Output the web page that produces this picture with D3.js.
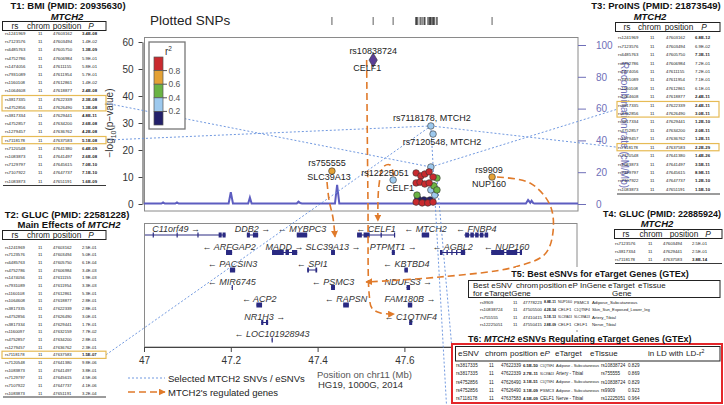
<!DOCTYPE html>
<html><head><meta charset="utf-8">
<script src="https://cdn.jsdelivr.net/npm/d3@7/dist/d3.min.js"></script>
<style>html,body{margin:0;padding:0;background:#fff}svg{display:block}</style>
</head><body><svg id="chart" width="724" height="405"></svg>
<script>
// ================= DATA =================
const snpIds = ["rs10838724","rs7118178","rs7120548","rs755555","rs12225051","rs9909",
  "","","","","","","","","","","","","","","","","","","","","","",""];
const snpGene = ["CELF1","MTCH2","MTCH2","SLC39A13","CELF1","NUP160"];
const snpPos = [47.528,47.661,47.666,47.433,47.574,47.802,
  47.661,47.627,47.638,47.647,47.657,47.666,47.675,47.627,47.636,47.647,47.657,47.668,
  47.675,47.661,47.670,47.629,47.631,47.645,47.659,47.627,47.641,47.654,47.666];
const snpLogP = [53.3,28.9,25.9,12.2,8.9,10.0,
  13.7,11.5,10.4,11.1,11.9,10.0,9.6,7.8,8.1,7.4,7.8,6.7,
  5.2,5.2,3.3,3.3,1.9,1.5,1.5,0.7,0.4,0.4,0.7];
const snpR2 = [1.0,0.3,0.3,0.7,0.3,0.7,
  0.3,0.9,0.9,0.9,0.9,0.9,0.5,0.9,0.9,0.9,0.9,0.5,
  0.5,0.3,0.3,0.5,0.1,0.1,0.1,0.9,0.9,0.9,0.9];
const leadSnp = "rs10838724";

const recPos  = [47.0,47.040,47.044,47.048,47.072,47.076,47.080,47.195,47.200,47.205,47.240,47.244,47.248,47.352,47.356,47.360,47.364,47.440,47.445,47.450,47.880,47.885,47.890,47.893,47.897,47.900,48.0];
const recRate = [0.3,0.3,1.0,0.3,0.3,1.0,0.3,0.3,7.5,0.3,0.3,4.0,0.3,0.3,1.5,0.6,0.3,0.3,12.0,0.3,0.3,2.5,0.8,2.0,0.5,0.3,0.3];

const yTicks = [0,10,20,30,40,50,60];
const recTicks = [0,20,40,60,80,100];
const xTicks = [47,47.2,47.4,47.6];   // 47.8 is hidden behind table T6 in the reference
const r2Labels = [0.8,0.6,0.4,0.2];

const geneNames  = ["C11orf49","DDB2","MYBPC3","CELF1","MTCH2","FNBP4","ARFGAP2","MADD","SLC39A13","PTPMT1","AGBL2","NUP160","PACSIN3","SPI1","KBTBD4","MIR6745","PSMC3","NDUFS3","ACP2","RAPSN","FAM180B","NR1H3","C1QTNF4","LOC101928943"];
const geneStart  = [46.96,47.237,47.352,47.491,47.640,47.738,47.189,47.295,47.431,47.571,47.682,47.800,47.198,47.376,47.600,47.202,47.431,47.605,47.259,47.459,47.608,47.270,47.611,47.294];
const geneEnd    = [47.188,47.263,47.376,47.578,47.657,47.793,47.203,47.353,47.440,47.578,47.740,47.871,47.210,47.399,47.608,47.203,47.440,47.613,47.272,47.472,47.618,47.286,47.618,47.296];
const geneStrand = [1,1,-1,-1,-1,-1,-1,1,1,1,-1,-1,-1,-1,-1,-1,-1,1,-1,-1,1,1,-1,-1];
const geneRow    = [0,0,0,0,0,0,1,1,1,1,1,1,2,2,2,3,3,3,4,4,4,5,5,6];
const geneExons = {
  "C11orf49":[[47.020,47.022],[47.075,47.077],[47.123,47.125],[47.172,47.179],[47.181,47.188]],
  "DDB2":[[47.237,47.244],[47.251,47.263]],
  "CELF1":[[47.491,47.502],[47.506,47.520],[47.545,47.548],[47.576,47.578]],
  "FNBP4":[[47.740,47.749],[47.752,47.760],[47.763,47.771],[47.774,47.782],[47.785,47.793]],
  "MADD":[[47.295,47.322],[47.326,47.334],[47.341,47.353]],
  "AGBL2":[[47.682,47.688],[47.697,47.700],[47.708,47.711],[47.719,47.722],[47.730,47.740]],
  "NUP160":[[47.800,47.830],[47.835,47.860],[47.866,47.871]],
  "SPI1":[[47.376,47.380],[47.395,47.399]],
  "NR1H3":[[47.270,47.275],[47.281,47.286]]
};

// tables
const tRs  = ["rs1241969","rs7123576","rs6485763","rs4752786","rs1474056","rs7931089","rs1160108","rs1064608","rs3817335","rs4752856","rs3817334","rs4752857","rs1279457","rs7118178","rs7120548","rs1083873","rs7129797","rs7107922","rs1083873"];
const tPos = ["47603162","47603494","47605750","47606984","47611155","47611954","47612861","47618877","47622339","47626490","47629441","47634200","47636762","47637583","47641380","47641497","47645615","47647737","47651191"];
const t1P = ["3.4E-08","1.4E-02","1.3E-09","5.9E-01","5.8E-01","5.7E-01","1.4E-02","2.4E-08","2.3E-08","1.3E-08","4.8E-11","2.6E-08","4.2E-08","5.1E-08","6.4E-09","2.6E-08","7.0E-10","7.1E-10","1.6E-09"];
const t3P = ["6.8E-12","6.9E-02","7.3E-11","7.2E-01","7.2E-01","7.1E-01","6.1E-01","2.4E-11","2.4E-11","3.0E-11","1.2E-10","2.0E-11","1.2E-11","2.2E-29","1.4E-26","3.5E-11","8.9E-11","1.2E-10","1.5E-10"];
const t2Rs  = ["rs1241969","rs7123576","rs6485763","rs4752786","rs1474056","rs7931089","rs1160108","rs1064608","rs3817335","rs4752856","rs3817334","rs1160097","rs4752857","rs1279457","rs7118178","rs7120548","rs1083873","rs7129797","rs7107922","rs1083873"];
const t2Pos = ["47603162","47603494","47605750","47606984","47611155","47611954","47612861","47618877","47622339","47626490","47629441","47632159","47634200","47636762","47637583","47641380","47641497","47645615","47647737","47651191"];
const t2P = ["2.5E-01","5.0E-01","6.1E-04","3.4E-03","1.9E-03","3.3E-03","5.3E-01","2.8E-01","2.8E-01","3.0E-01","1.7E-01","7.7E-02","2.8E-01","2.3E-01","1.5E-07","9.8E-06","3.8E-01","4.5E-06","4.1E-06","3.2E-04"];
const t4Rs = ["rs7123576","rs3817334","rs7118178"];
const t4Pos = ["47603494","47629441","47637583"];
const t4P = ["2.5E-01","2.5E-01","3.8E-14"];
const t5Snv = ["rs9909","rs10838724","rs755555","rs12225051"];
const t5Pos = ["47778223","47505500","47410415","47550415"];
const t5EP = ["8.8E-11","4.2E-54","5.1E-13","2.8E-09"];
const t5InGene = ["NUP160","CELF1","SLC39A13","CELF1"];
const t5Target = ["PSMC3","C1QTNF4","SLC39A13","CELF1"];
const t5Tissue = ["Adipose_Subcutaneous","Skin_Sun_Exposed_Lower_leg","Artery_Tibial","Nerve_Tibial"];
const t6Snv = ["rs3817335","rs3817335","rs4752856","rs4752856","rs7118178"];
const t6Pos = ["47622339","47622339","47626490","47626490","47637583"];
const t6EP = ["6.5E-50","2.7E-11","3.1E-51","3.1E-09","4.5E-09"];
const t6Target = ["C1QTNF4","SLC39A13","C1QTNF4","PSMC3","CELF1"];
const t6Tissue = ["Adipose - Subcutaneous","Artery - Tibial","Adipose - Subcutaneous","Adipose - Subcutaneous","Nerve - Tibial"];
const t6LD = ["rs10838724","rs755555","rs10838724","rs9909","rs12225051"];
const t6R2 = ["0.829","0.869","0.829","0.923","0.964"];

// ================= LAYOUT / STYLE =================
const FONT = "'Liberation Sans', Arial, Helvetica, sans-serif";
const NAVY = "#2a2a82", ORANGE = "#e07a2a", BLUE = "#7199e0", GOLD = "#e6bb55", RECC = "#5d5dc0", RAX = "#6f6fb8";
const r2Colors = ["#23206a","#9dc9ee","#6ab344","#e4a135","#c92a2e"];
const colorFor = r => r2Colors[Math.min(4, Math.floor(r/0.2))];

const svg = d3.select("#chart").attr("font-family", FONT);
svg.append("rect").attr("width",724).attr("height",405).attr("fill","#fff");

const x  = d3.scaleLinear().domain([47,48]).range([144,578]);
const yL = d3.scaleLinear().domain([0,60]).range([204,42]);
const yR = d3.scaleLinear().domain([0,100]).range([204,45]);

const defs = svg.append("defs");
defs.append("clipPath").attr("id","clipTop").append("rect").attr("x",144).attr("y",37).attr("width",434).attr("height",174);
defs.append("clipPath").attr("id","clipGene").append("rect").attr("x",145).attr("y",224).attr("width",432).attr("height",123);
defs.append("marker").attr("id","arrO").attr("viewBox","0 0 10 10").attr("refX",9).attr("refY",5)
  .attr("markerWidth",7).attr("markerHeight",7).attr("markerUnits","userSpaceOnUse").attr("orient","auto")
  .append("path").attr("d","M0,0L10,5L0,10z").attr("fill",ORANGE);

// Plotted SNPs strip
svg.append("text").attr("x",150).attr("y",25).attr("font-size",13.5).attr("fill","#222").text("Plotted SNPs");
svg.append("g").selectAll("line").data(snpPos).join("line")
  .attr("x1",d=>x(d)).attr("x2",d=>x(d)).attr("y1",17).attr("y2",25).attr("stroke","#333").attr("stroke-width",0.8);

// frames
svg.append("rect").attr("x",144.5).attr("y",37.5).attr("width",433.5).attr("height",173.5).attr("fill","none").attr("stroke","#8a8a8a");
svg.append("rect").attr("x",144.5).attr("y",223.5).attr("width",432.5).attr("height",123.5).attr("fill","none").attr("stroke","#8a8a8a");

// axes
const axL = svg.append("g").attr("transform","translate(142.5,0)")
  .call(d3.axisLeft(yL).tickValues(yTicks).tickSize(4).tickPadding(5).tickSizeOuter(0));
axL.attr("font-family",FONT).attr("font-size",10);
axL.selectAll("text").attr("fill","#333");
axL.selectAll("line,path").attr("stroke","#444");

const axB = svg.append("g").attr("transform","translate(0,347)")
  .call(d3.axisBottom(x).tickValues(xTicks).tickFormat(d=>d===47?"47":d.toFixed(1)).tickSize(5).tickPadding(5).tickSizeOuter(0));
axB.attr("font-family",FONT).attr("font-size",10);
axB.selectAll("text").attr("fill","#333");
axB.selectAll("line,path").attr("stroke","#444");

const axR = svg.append("g").attr("transform","translate(578,0)")
  .call(d3.axisRight(yR).tickValues(recTicks).tickSize(8).tickPadding(10).tickSizeOuter(0));
axR.select(".domain").remove();
axR.attr("font-family",FONT).attr("font-size",10);
axR.selectAll("text").attr("fill",RAX);
axR.selectAll("line").attr("stroke",RAX);

const yl = svg.append("text").attr("transform","translate(113,123) rotate(-90)").attr("text-anchor","middle")
  .attr("font-size",10).attr("fill","#333");
yl.append("tspan").text("\u2212log");
yl.append("tspan").attr("font-size",7).attr("dy",2.5).text("10");
yl.append("tspan").attr("dy",-2.5).text("(p\u2212value)");
svg.append("text").attr("transform","translate(621,125) rotate(90)").attr("text-anchor","middle")
  .attr("font-size",10).attr("fill",RAX).text("Recombination rate (cM/Mb)");

// genes
const gG = svg.append("g").attr("clip-path","url(#clipGene)");
geneNames.forEach((n,i)=>{
  const s=geneStart[i], e=geneEnd[i], by=235+geneRow[i]*17.5;
  gG.append("line").attr("x1",x(s)).attr("x2",x(e)).attr("y1",by).attr("y2",by).attr("stroke",NAVY).attr("stroke-width",1);
  (geneExons[n]||[[s,e]]).forEach(([a,b])=>gG.append("rect").attr("x",x(a)).attr("y",by-2.5)
     .attr("width",Math.max(1.2,x(b)-x(a))).attr("height",5).attr("fill",NAVY));
  const lbl = geneStrand[i]>0 ? n+" \u2192" : "\u2190 "+n;
  gG.append("text").attr("x",x((s+e)/2)).attr("y",by-3).attr("text-anchor","middle").attr("font-size",9)
    .attr("font-style","italic").attr("fill","#333").text(lbl);
});

// recombination
svg.append("path").attr("clip-path","url(#clipTop)")
  .datum(recPos.map((p,i)=>[p,recRate[i]]))
  .attr("d",d3.line().x(d=>x(d[0])).y(d=>yR(d[1])))
  .attr("fill","none").attr("stroke",RECC).attr("stroke-width",2);

// table row geometry (layout)
const t1Y=i=>33.5+i*8.2, t2Y=i=>247+i*7.7, t3Y=i=>37.7+i*8.42, t4Y=i=>243+i*8.2, t5Y=i=>302+i*7.5, t6Y=i=>365.5+i*8.2;
const pt = i => [x(snpPos[i]), yL(snpLogP[i])];

// blue dotted links
const links = [
  [[106,(t1Y(8)+t1Y(9))/2], pt(6)],
  [[106,t1Y(13)], pt(1)],
  [[106,t2Y(14)], pt(1)],
  [pt(1), [617,t3Y(13)]],
  [pt(6), [617,(t3Y(8)+t3Y(9))/2]],
  [pt(1), [446.5,405]],
  [pt(12), [452,349]]
];
svg.append("g").selectAll("line").data(links).join("line")
  .attr("x1",d=>d[0][0]).attr("y1",d=>d[0][1]).attr("x2",d=>d[1][0]).attr("y2",d=>d[1][1])
  .attr("stroke",BLUE).attr("stroke-width",1).attr("stroke-dasharray","2,2");

// orange regulation arrows (control points in Mb, px)
const regLinks = [
  {from:"rs10838724", to:"C1QTNF4", pts:[[47.513,60],[47.516,200],[47.519,295],[47.525,308],[47.545,313],[47.577,314]]},
  {from:"rs755555", to:"SLC39A13", pts:[[47.4217,182],[47.4263,200],[47.4355,218],[47.4401,237]]},
  {from:"rs12225051", to:"CELF1", pts:[[47.576,176],[47.567,165],[47.551,167],[47.5415,185],[47.539,205],[47.539,221]]},
  {from:"rs9909", to:"PSMC3", pts:[[47.8134,177],[47.8894,183],[47.9355,205],[47.9424,232],[47.924,254],[47.8548,267],[47.682,277],[47.5115,282]]}
];
const oLine = d3.line().x(d=>x(d[0])).y(d=>d[1]).curve(d3.curveCatmullRom.alpha(0.5));
svg.append("g").selectAll("path").data(regLinks).join("path")
  .attr("d",d=>oLine(d.pts)).attr("fill","none").attr("stroke",ORANGE).attr("stroke-width",1.6)
  .attr("stroke-dasharray","7,4").attr("marker-end","url(#arrO)");

// points
const order = d3.range(snpPos.length).sort((a,b)=>snpR2[a]-snpR2[b]);
const gP = svg.append("g").attr("clip-path","url(#clipTop)");
order.forEach(i=>{
  if(snpIds[i]===leadSnp){
    gP.append("path").attr("d",d3.symbol(d3.symbolDiamond,60)()).attr("transform",`translate(${x(snpPos[i])},${yL(snpLogP[i])})`)
      .attr("fill","#5b3e96").attr("stroke","#333").attr("stroke-width",0.6);
  } else {
    gP.append("circle").attr("cx",x(snpPos[i])).attr("cy",yL(snpLogP[i])).attr("r",3.3)
      .attr("fill",colorFor(snpR2[i])).attr("stroke","#333").attr("stroke-width",0.6);
  }
});
// point labels
const labelLayout = [
  {top:true, tdx:0, tdy:-6, bot:true, bdx:-6, bdy:11},
  {top:true, join:true, tdx:1, tdy:-5},
  {bot:true, join:true, bdx:9, bdy:11},
  {top:true, tdx:-5, tdy:-5, bot:true, bdx:-3, bdy:9},
  {top:true, tdx:-8, tdy:-4, bot:true, bdx:7, bdy:11},
  {top:true, tdx:-3, tdy:-4, bot:true, bdx:-3, bdy:10}
];
labelLayout.forEach((L,i)=>{
  const [px,py] = pt(i);
  const addT=(t,dx,dy)=>svg.append("text").attr("x",px+dx).attr("y",py+dy).attr("text-anchor","middle")
     .attr("font-size",9).attr("fill","#222").text(t);
  if(L.join){ if(L.top) addT(snpIds[i]+", "+snpGene[i],L.tdx,L.tdy); else addT(snpIds[i]+", "+snpGene[i],L.bdx,L.bdy); }
  else { addT(snpIds[i],L.tdx,L.tdy); addT(snpGene[i],L.bdx,L.bdy); }
});

// r2 legend
svg.append("rect").attr("x",149).attr("y",42).attr("width",36).attr("height",87).attr("fill","#fff").attr("stroke","#777").attr("stroke-width",1.3);
const lg = d3.scaleLinear().domain([1,0]).range([57,125]);
[4,3,2,1,0].forEach(k=>{
  svg.append("rect").attr("x",154).attr("y",lg((k+1)*0.2)).attr("width",9).attr("height",lg(k*0.2)-lg((k+1)*0.2))
    .attr("fill",r2Colors[k]).attr("stroke","#555").attr("stroke-width",0.7);
});
r2Labels.forEach(v=>{
  svg.append("line").attr("x1",163).attr("x2",167).attr("y1",lg(v)).attr("y2",lg(v)).attr("stroke","#555");
  svg.append("text").attr("x",168.5).attr("y",lg(v)+3).attr("font-size",8.5).attr("fill","#555").text(v.toFixed(1));
});
const rt = svg.append("text").attr("x",165).attr("y",55).attr("font-size",10).attr("fill","#333");
rt.append("tspan").text("r"); rt.append("tspan").attr("font-size",6.5).attr("dy",-4).text("2");

// ============ TABLES ============
function drawTable(c){
  const g = svg.append("g");
  (c.bgs||[]).forEach(b=>g.append("rect").attr("x",b[0]).attr("y",b[1]).attr("width",b[2]-b[0]).attr("height",b[3]-b[1]).attr("fill","#fff"));
  if(c.frame) g.append("rect").attr("x",c.frame[0]).attr("y",c.frame[1]).attr("width",c.frame[2]-c.frame[0]).attr("height",c.frame[3]-c.frame[1])
      .attr("fill","#fff").attr("stroke","#e3262a").attr("stroke-width",2);
  c.titles.forEach(t=>{
    const tx=g.append("text").attr("x",t.x).attr("y",t.y).attr("text-anchor",t.anchor||"middle")
      .attr("font-size",t.size).attr("font-weight","bold").attr("fill","#111");
    t.parts.forEach(p=>tx.append("tspan").attr("font-style",p.i?"italic":"normal").text(p.t));
  });
  const n = c.columns[0].length;
  for(let i=0;i<n;i++){
    const yy=c.rowY(i);
    c.columns.forEach((col,j)=>{
      const t=g.append("text").attr("x",c.cols[j]).attr("y",yy+c.size*0.36).attr("font-size",c.size).attr("fill","#222")
        .attr("font-weight", c.bold(i,j)?"bold":"normal").text(col[i]);
      const maxW = j<c.cols.length-1 ? c.cols[j+1]-c.cols[j]-2 : c.lastW;
      const w=t.node().getComputedTextLength();
      if(w>maxW){ const fs=c.size*maxW/w; t.attr("font-size",fs).attr("y",yy+fs*0.36); }
    });
  }
  (c.hl||[]).forEach(h=>{
    const y0=c.rowY(h[0])-3.6, y1=c.rowY(h[1])+3.6;
    g.append("rect").attr("x",c.hlX[0]).attr("y",y0).attr("width",c.hlX[1]-c.hlX[0]).attr("height",y1-y0)
      .attr("fill","none").attr("stroke",GOLD).attr("stroke-width",1.2);
  });
  const hb=c.hbox;
  g.append("rect").attr("x",hb[0]).attr("y",hb[1]).attr("width",hb[2]-hb[0]).attr("height",hb[3]-hb[1])
    .attr("fill","#fff").attr("stroke","#222").attr("stroke-width",1);
  c.header.forEach(h=>{
    const tx=g.append("text").attr("x",h.x).attr("y",h.y).attr("text-anchor",h.a||"middle").attr("font-size",c.hsize).attr("fill","#222");
    h.parts.forEach(p=>{const s=tx.append("tspan").attr("font-style",p.i?"italic":"normal").text(p.t); if(p.sup) s.attr("font-size",c.hsize*0.65).attr("dy",-3);});
  });
  if(c.bottom) g.append("line").attr("x1",c.bottom[0]).attr("x2",c.bottom[1]).attr("y1",c.bottom[2]).attr("y2",c.bottom[2]).attr("stroke","#222").attr("stroke-width",0.9);
}
const sig = (arr)=>(i,j)=> j===3 && parseFloat(arr[i])<1e-6;
const ch = arr=>arr.map(()=>"11");
const stdHeader = (y,xs)=>[
  {x:xs[0],y,parts:[{t:"rs"}]},{x:xs[1],y,parts:[{t:"chrom"}]},{x:xs[2],y,parts:[{t:"position"}]},{x:xs[3],y,parts:[{t:"P",i:true}]}];

drawTable({titles:[{x:68,y:9,size:9.5,parts:[{t:"T1: BMI (PMID: 20935630)"}]},{x:67,y:19.5,size:9.5,parts:[{t:"MTCH2",i:true}]}],
  hbox:[2.5,21.5,106,30.5], hsize:8.3, header:stdHeader(28.6,[15,38.5,67,91]),
  columns:[tRs,ch(tRs),tPos,t1P], cols:[5,38,53,82], lastW:22, size:4.3, rowY:t1Y, bold:sig(t1P),
  hl:[[8,9],[13,13]], hlX:[2,106], bottom:[3,106,185.5]});

drawTable({titles:[{x:656,y:9,size:9.5,parts:[{t:"T3: ProINS (PMID: 21873549)"}]},{x:650,y:19.5,size:9.5,parts:[{t:"MTCH2",i:true}]}],
  hbox:[615.5,22.5,720,31.5], hsize:8.3, header:stdHeader(29.6,[627,649.5,679,704]),
  columns:[tRs,ch(tRs),tPos,t3P], cols:[618,650,666,695], lastW:22, size:4.3, rowY:t3Y, bold:sig(t3P),
  hl:[[8,9],[13,13]], hlX:[617,719], bottom:[617,720,194]});

drawTable({titles:[{x:67,y:217.5,size:9.5,parts:[{t:"T2: GLUC (PMID: 22581228)"}]},{x:69,y:228,size:9.5,parts:[{t:"Main Effects of "},{t:"MTCH2",i:true}]}],
  hbox:[2.5,230.5,106,239.5], hsize:8.3, header:stdHeader(237.6,[15,38.5,67,91]),
  columns:[t2Rs,ch(t2Rs),t2Pos,t2P], cols:[5,38,53,82], lastW:22, size:4.2, rowY:t2Y, bold:sig(t2P),
  hl:[[14,14]], hlX:[2,106], bottom:[3,106,397]});

drawTable({titles:[{x:662,y:217,size:9,parts:[{t:"T4: GLUC (PMID: 22885924)"}]},{x:657,y:226.8,size:9.5,parts:[{t:"MTCH2",i:true}]}],
  hbox:[614.5,229.5,722,238.5], hsize:8.3, header:stdHeader(236.6,[626,651,684,708]),
  columns:[t4Rs,ch(t4Rs),t4Pos,t4P], cols:[615,648,663,692], lastW:22, size:4.3, rowY:t4Y, bold:sig(t4P),
  bottom:[615,722,263.5]});

drawTable({bgs:[[516,267,688,279],[466,279,723,330]],
  titles:[{x:600,y:276.5,size:9,parts:[{t:"T5: Best eSNVs for eTarget Genes (GTEx)"}]}],
  hbox:[468.5,280.5,720,297.5], hsize:8,
  header:[{x:473,y:287.5,a:"start",parts:[{t:"Best eSNV"}]},{x:516,y:287.5,a:"start",parts:[{t:"chrom"}]},
    {x:539,y:287.5,a:"start",parts:[{t:"position"}]},{x:568,y:287.5,a:"start",parts:[{t:"eP"}]},
    {x:580,y:287.5,a:"start",parts:[{t:"InGene"}]},{x:608,y:287.5,a:"start",parts:[{t:"eTarget"}]},
    {x:638,y:287.5,a:"start",parts:[{t:"eTissue"}]},
    {x:473,y:295.5,a:"start",parts:[{t:"for eTargetGene"}]},{x:612,y:295.5,a:"start",parts:[{t:"Gene"}]}],
  columns:[t5Snv,ch(t5Snv),t5Pos,t5EP,t5InGene,t5Target,t5Tissue], cols:[480,513,523,544,558,574,592], lastW:58,
  size:4.3, rowY:t5Y, bold:(i,j)=>j===3});

drawTable({bgs:[[466,332,723,344]], frame:[452,344,722,403],
  titles:[{x:468,y:341.5,anchor:"start",size:9,parts:[{t:"T6: "},{t:"MTCH2",i:true},{t:" eSNVs Regulating eTarget Genes (GTEx)"}]}],
  hbox:[455.5,346.5,720,361], hsize:8,
  header:[{x:458,y:355.5,a:"start",parts:[{t:"eSNV"}]},{x:485,y:355.5,a:"start",parts:[{t:"chrom"}]},
    {x:510,y:355.5,a:"start",parts:[{t:"position"}]},{x:540,y:355.5,a:"start",parts:[{t:"e"},{t:"P",i:true}]},
    {x:555,y:355.5,a:"start",parts:[{t:"eTarget"}]},{x:590,y:355.5,a:"start",parts:[{t:"eTissue"}]},
    {x:648,y:355.5,a:"start",parts:[{t:"in LD with"}]},{x:686,y:355.5,a:"start",parts:[{t:"LD-r"},{t:"2",sup:true}]}],
  columns:[t6Snv,ch(t6Snv),t6Pos,t6EP,t6Target,t6Tissue,t6LD,t6R2], cols:[456,489,501,523,540,556,601,628], lastW:14,
  size:4.6, rowY:t6Y, bold:(i,j)=>j===3});

// bottom legend & axis titles
svg.append("line").attr("x1",128).attr("x2",165).attr("y1",378).attr("y2",378).attr("stroke",BLUE).attr("stroke-dasharray","2,2");
svg.append("text").attr("x",168).attr("y",381.5).attr("font-size",9.5).attr("fill","#222").text("Selected MTCH2 SNVs / eSNVs");
svg.append("line").attr("x1",128).attr("x2",165).attr("y1",392).attr("y2",392).attr("stroke",ORANGE).attr("stroke-width",1.6)
  .attr("stroke-dasharray","7,4").attr("marker-end","url(#arrO)");
svg.append("text").attr("x",168).attr("y",395.5).attr("font-size",9.5).attr("fill","#222").text("MTCH2's regulated genes");
svg.append("text").attr("x",317).attr("y",377.5).attr("font-size",9.5).attr("fill","#555").text("Position on chr11 (Mb)");
svg.append("text").attr("x",318).attr("y",388).attr("font-size",9.5).attr("fill","#333").text("HG19, 1000G, 2014");
</script></body></html>
